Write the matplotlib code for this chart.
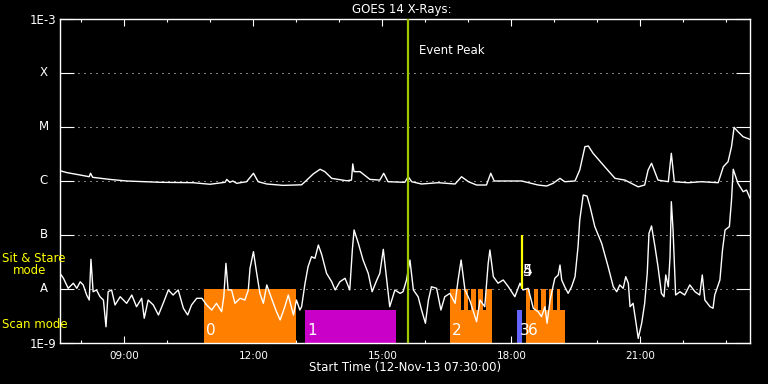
import matplotlib.pyplot as plt
from matplotlib.ticker import FixedLocator, NullLocator
from matplotlib.transforms import blended_transform_factory

plt.rcParams['font.family'] = 'DejaVu Sans'

# GOES 14 long channel (1-8 A), time in hours of 12-Nov-13, flux in W/m^2
long_t = [7.50, 7.66, 7.97, 8.18, 8.21, 8.26, 8.66, 9.05, 9.83, 10.59,
          10.99, 11.34, 11.38, 11.45, 11.52, 11.61, 11.84, 12.00, 12.11, 12.31,
          12.69, 13.12, 13.24, 13.39, 13.55, 13.66, 13.82, 14.17, 14.28, 14.31,
          14.34, 14.48, 14.71, 14.94, 15.03, 15.13, 15.52, 15.60, 15.68, 15.91,
          16.30, 16.69, 16.84, 17.00, 17.19, 17.42, 17.52, 17.60, 18.24, 18.62,
          18.82, 18.97, 19.13, 19.24, 19.48, 19.59, 19.71, 19.79, 19.90, 20.17,
          20.41, 20.64, 20.95, 21.10, 21.18, 21.26, 21.41, 21.65, 21.72, 21.79,
          22.11, 22.42, 22.81, 22.93, 23.04, 23.12, 23.18, 23.27, 23.39, 23.55]
long_f = [1.55, 1.43, 1.29, 1.20, 1.39, 1.17, 1.07, 1.00, 0.946, 0.93,
          0.87, 0.946, 1.07, 0.946, 1.00, 0.906, 0.97, 1.39, 0.97, 0.88,
          0.83, 0.85, 1.04, 1.35, 1.65, 1.49, 1.12, 1.01, 1.04, 2.07,
          1.49, 1.49, 1.07, 1.04, 1.39, 0.97, 0.946, 1.20, 0.97, 0.88,
          0.93, 0.88, 1.20, 0.97, 0.843, 0.843, 1.39, 1.00, 1.00, 0.843,
          0.807, 0.906, 1.12, 0.97, 1.00, 1.60, 4.32, 4.45, 3.26, 1.84,
          1.12, 1.04, 0.78, 0.843, 1.60, 2.13, 1.04, 0.97, 3.26, 0.97,
          0.93, 0.97, 0.93, 1.84, 2.28, 4.32, 9.86, 8.18, 6.6, 5.9]
long_f = [v * 1e-6 for v in long_f]

# short channel (0.5-4 A)
short_t = [7.50, 7.58, 7.69, 7.81, 7.89, 7.97, 8.04, 8.12, 8.18, 8.22,
           8.27, 8.35, 8.43, 8.51, 8.57, 8.62, 8.70, 8.78, 8.90, 9.05,
           9.17, 9.28, 9.40, 9.46, 9.55, 9.67, 9.79, 9.90, 10.02, 10.13,
           10.25, 10.37, 10.47, 10.56, 10.68, 10.80, 10.91, 11.03, 11.14, 11.26,
           11.31, 11.36, 11.41, 11.49, 11.57, 11.69, 11.80, 11.88, 11.92, 12.00,
           12.07, 12.15, 12.23, 12.31, 12.42, 12.52, 12.62, 12.73, 12.81, 12.93,
           13.00, 13.08, 13.12, 13.20, 13.27, 13.35, 13.43, 13.51, 13.59, 13.70,
           13.82, 13.90, 14.01, 14.13, 14.24, 14.30, 14.34, 14.44, 14.55, 14.67,
           14.76, 14.87, 14.94, 15.02, 15.10, 15.17, 15.29, 15.41, 15.48, 15.56,
           15.64, 15.72, 15.83, 15.91, 16.00, 16.07, 16.14, 16.26, 16.36, 16.45,
           16.57, 16.69, 16.76, 16.83, 16.92, 17.03, 17.19, 17.27, 17.38, 17.46,
           17.50, 17.58, 17.69, 17.81, 17.93, 18.08, 18.20, 18.27, 18.39, 18.51,
           18.62, 18.70, 18.78, 18.83, 18.90, 19.01, 19.09, 19.13, 19.17, 19.24,
           19.32, 19.40, 19.48, 19.55, 19.59, 19.67, 19.76, 19.83, 19.94, 20.10,
           20.25, 20.37, 20.45, 20.52, 20.60, 20.66, 20.72, 20.76, 20.83, 20.90,
           20.95, 21.03, 21.10, 21.16, 21.20, 21.26, 21.34, 21.41, 21.49, 21.55,
           21.59, 21.65, 21.69, 21.72, 21.76, 21.82, 21.92, 22.03, 22.15, 22.27,
           22.38, 22.44, 22.50, 22.62, 22.69, 22.73, 22.85, 22.91, 22.97, 23.07,
           23.12, 23.16, 23.27, 23.39, 23.47, 23.55]
short_f = [19.5, 15.8, 10.3, 12.8, 10.3, 13.6, 11.9, 7.74, 6.25, 35.5,
           8.9, 9.6, 7.2, 6.25, 2.0, 8.9, 9.6, 5.06, 7.2, 5.43,
           7.74, 4.7, 6.73, 2.87, 6.25, 5.06, 3.3, 5.43, 9.6, 7.74,
           9.6, 4.4, 3.3, 5.06, 6.73, 6.73, 5.06, 4.08, 5.43, 3.8,
           7.2, 29.9, 9.6, 9.6, 5.43, 6.73, 6.25, 9.6, 24.2, 49.1,
           20.9, 8.3, 5.43, 11.9, 6.73, 4.08, 2.67, 4.7, 7.74, 3.3,
           6.25, 4.08, 4.7, 12.8, 25.9, 39.6, 37.0, 65.3, 42.7, 19.5,
           13.6, 9.6, 13.6, 15.8, 9.6, 52.7, 124, 70, 34.4, 19.5,
           8.9, 14.7, 19.5, 54.3, 14.7, 4.7, 9.6, 8.3, 8.9, 14.7,
           34.4, 9.6, 7.2, 4.08, 2.32, 6.25, 11.0, 10.3, 4.08, 7.2,
           8.3, 5.43, 14.7, 34.4, 9.6, 6.25, 2.48, 6.25, 4.7, 29.9,
           52.7, 16.9, 12.8, 14.7, 11.0, 7.2, 12.8, 9.6, 10.3, 4.4,
           3.8, 3.07, 4.7, 2.32, 6.25, 15.8, 18.2, 27.8, 14.7, 11.0,
           8.3, 11.0, 16.9, 60.7, 190, 550, 527, 334, 143, 70,
           25.9, 11.0, 8.9, 11.9, 10.3, 16.9, 12.8, 4.7, 5.43, 2.32,
           1.22, 2.32, 5.43, 19.5, 107, 147, 60.7, 25.9, 8.3, 7.2,
           18.2, 11.0, 39.6, 414, 124, 7.74, 8.9, 7.74, 11.9, 8.9,
           7.74, 18.2, 6.25, 4.7, 4.4, 7.74, 14.7, 52.7, 124, 143,
           444, 1650, 906, 634, 680, 479]
short_f = [v * 1e-9 for v in short_f]

# observing blocks (scan mode) and sit & stare segments
block_start = [10.85, 13.21, 16.57, 18.14, 18.34]
block_end = [12.99, 15.31, 17.56, 18.24, 19.25]
block_color = ['#ff8000', '#c800c8', '#ff8000', '#6464ff', '#ff8000']
block_label = ['0', '1', '2', '3', '6']
stare_start = [10.85, 16.57, 16.90, 17.06, 17.23, 17.41, 18.34, 18.52, 18.70, 18.88, 19.05]
stare_end = [12.99, 16.83, 17.00, 17.17, 17.35, 17.56, 18.43, 18.62, 18.80, 18.97, 19.14]

event_peak = 15.59
event_45 = 18.24

levels = [1e-9, 1e-8, 1e-7, 1e-6, 1e-5, 1e-4, 1e-3]
classes = ['A', 'B', 'C', 'M', 'X']
hour_ticks = [9, 12, 15, 18, 21]
hour_labels = ['09:00', '12:00', '15:00', '18:00', '21:00']

FLOOR, SCAN_TOP, STARE_TOP = 1e-9, 4.1e-9, 1e-8

fig = plt.figure(figsize=(7.68, 3.84), dpi=100, facecolor='black')
ax = fig.add_axes([60 / 768, 41 / 384, 690 / 768, 324 / 384], facecolor='black')
ax.set_yscale('log')
ax.set_ylim(1e-9, 1e-3)
ax.set_xlim(7.5, 23.55)

for lev in levels[1:-1]:
    ax.axhline(lev, color='white', lw=0.72, ls=(0, (1, 5)), zorder=1)

for s, e, c in zip(block_start, block_end, block_color):
    ax.fill_between([s, e], FLOOR, SCAN_TOP, color=c, lw=0, zorder=2)
for s, e in zip(stare_start, stare_end):
    ax.fill_between([s, e], FLOOR, STARE_TOP, color='#ff8000', lw=0, zorder=2)

ax.plot(long_t, long_f, color='white', lw=1.0, zorder=3)
ax.plot(short_t, short_f, color='white', lw=1.0, zorder=3)

ax.axvline(event_peak, color='#a0c800', lw=1.6, zorder=4)
ax.text(event_peak + 0.25, 2.6e-4, 'Event Peak', color='white', fontsize=8.5,
        va='center', ha='left')
ax.vlines(event_45, 1e-8, 1e-7, color='#ffff00', lw=1.6, zorder=4)

for s, lab in zip(block_start, block_label):
    ax.annotate(lab, (s, 1.67e-9), xytext=(1.5, 0), textcoords='offset points',
                color='white', fontsize=11, va='center', ha='left', zorder=5)
for lab in ['4', '5']:
    ax.annotate(lab, (event_45, 2.07e-8), xytext=(0.5, 0), textcoords='offset points',
                color='white', fontsize=11, va='center', ha='left', zorder=5)

# axes and ticks
for sp in ax.spines.values():
    sp.set_color('white')
    sp.set_linewidth(1.0)
ax.yaxis.set_major_locator(FixedLocator(levels))
ax.yaxis.set_minor_locator(NullLocator())
ax.set_yticklabels(['1E-9', '', '', '', '', '', '1E-3'])
ax.tick_params(axis='y', which='major', direction='in', length=10, width=0.8,
               colors='white', left=True, right=True, labelsize=8.5, pad=2.5)
ax.xaxis.set_major_locator(FixedLocator(hour_ticks))
ax.xaxis.set_minor_locator(FixedLocator(range(8, 24)))
ax.set_xticklabels(hour_labels)
ax.tick_params(axis='x', which='major', direction='in', length=5, width=0.8,
               colors='white', top=True, bottom=True, labelsize=7.5, pad=6)
ax.tick_params(axis='x', which='minor', direction='in', length=2.5, width=0.8,
               colors='white', top=True, bottom=True)

trans = blended_transform_factory(ax.transAxes, ax.transData)
for lev, cl in zip(levels[1:-1], classes):
    ax.text(-16 / 690, lev, cl, transform=trans, color='white', fontsize=8.5,
            ha='center', va='center')

fig.text(402 / 768, 1 - 10 / 384, 'GOES 14 X-Rays:', color='white', fontsize=8.5,
         ha='center', va='center')
fig.text(405 / 768, 1 - 368 / 384, 'Start Time (12-Nov-13 07:30:00)', color='white',
         fontsize=8.5, ha='center', va='center')
fig.text(2 / 768, 1 - 259 / 384, 'Sit & Stare', color='#ffff00', fontsize=8.5,
         ha='left', va='center')
fig.text(13 / 768, 1 - 271 / 384, 'mode', color='#ffff00', fontsize=8.5,
         ha='left', va='center')
fig.text(2 / 768, 1 - 324 / 384, 'Scan mode', color='#ffff00', fontsize=8.5,
         ha='left', va='center')

fig.savefig('out.png', dpi=100, facecolor='black')
